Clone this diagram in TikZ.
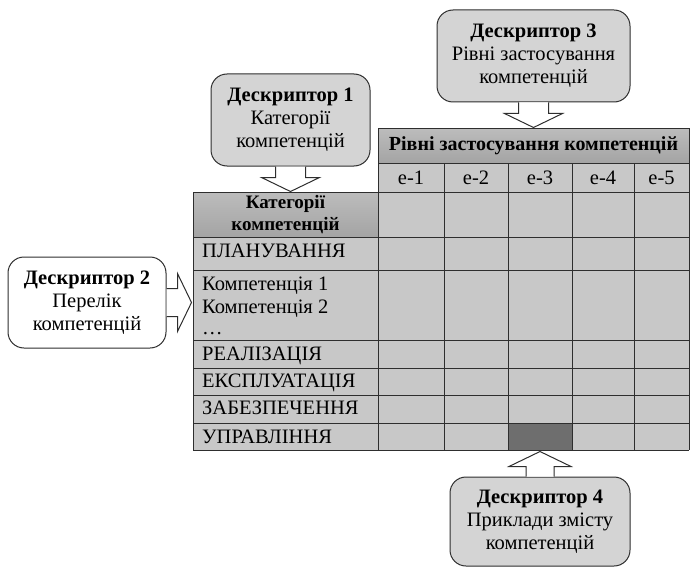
\documentclass[tikz,border=0pt]{standalone}
\usepackage{fontspec}
\setmainfont{Liberation Serif}
\definecolor{boxgray}{HTML}{D4D4D4}
\definecolor{cellgray}{HTML}{C8C8C8}
\definecolor{headgray}{HTML}{A4A4A4}
\definecolor{headlight}{HTML}{BCBCBC}
\definecolor{darkcell}{HTML}{6E6E6E}
\definecolor{linegray}{HTML}{2E2E2E}
\tikzset{
  descbox/.style={draw=linegray,line width=1pt,rounded corners=16pt,align=center,inner sep=2pt},
  blkarrow/.style={draw=linegray,line width=1pt,fill=white,line join=miter},
  tabline/.style={draw=linegray,line width=0.9pt},
  headcell/.style={top color=headlight,bottom color=headgray},
  rowtext/.style={anchor=base west,inner sep=0pt}
}
\begin{document}
\begin{tikzpicture}[x=1pt,y=-1pt,font=\fontsize{20.5}{23}\selectfont]
        \useasboundingbox (0,0) rectangle (690,567);
        % table body
        \fill[cellgray](193,192)rectangle(689,450);
        \fill[cellgray](378,163)rectangle(689,192);
        \shade[headcell](378,128)rectangle(689,163);
        \shade[headcell](193,192)rectangle(378,237);
        \fill[darkcell](508,423)rectangle(572,450);
        \foreach \y in {192,237,270,340,368,395,423,450} \draw[tabline](193,\y)--(689,\y);
        \foreach \y in {128,163} \draw[tabline](378,\y)--(689,\y);
        \draw[tabline](193,192)--(193,450);
        \foreach \x in {378,689} \draw[tabline](\x,128)--(\x,450);
        \foreach \x in {444,508,572,634} \draw[tabline](\x,163)--(\x,450);
        \draw[tabline](508,423)rectangle(572,450);
        % table texts
        \node[font=\fontsize{20}{23}\selectfont\bfseries](lvl)at(533.5,145.5){Рівні застосування компетенцій};
        \foreach \x/\n in {411/1,476/2,540/3,603/4,661.5/5} \node(e\n)at(\x,178){e-\n};
        \node[align=center,inner sep=0pt,font=\fontsize{19}{22}\selectfont\bfseries](cat)at(285.5,214.5){Категорії\\компетенцій};
        \node[rowtext](plan)at(202,257){ПЛАНУВАННЯ};
        \node[rowtext](comp1)at(202,290){Компетенція 1};
        \node[rowtext](comp2)at(202,313){Компетенція 2};
        \node[rowtext](dots)at(202,334){…};
        \node[rowtext](real)at(202,360){РЕАЛІЗАЦІЯ};
        \node[rowtext](expl)at(202,387){ЕКСПЛУАТАЦІЯ};
        \node[rowtext](zabez)at(202,414){ЗАБЕЗПЕЧЕННЯ};
        \node[rowtext](uprav)at(202,443){УПРАВЛІННЯ};
        % descriptors
        \node[descbox,fill=boxgray,minimum width=159pt,minimum height=92pt](d1)at(290.5,120){\textbf{Дескриптор 1}\\Категорії\\компетенцій};
        \node[descbox,fill=white,minimum width=158pt,minimum height=91pt](d2)at(87,302.5){\textbf{Дескриптор 2}\\Перелік\\компетенцій};
        \node[descbox,fill=boxgray,minimum width=193pt,minimum height=92pt](d3)at(533.5,56){\textbf{Дескриптор 3}\\Рівні застосування\\компетенцій};
        \node[descbox,fill=boxgray,minimum width=180pt,minimum height=89pt](d4)at(540,521.5){\textbf{Дескриптор 4}\\Приклади змісту\\компетенцій};
        % block arrows
        \draw[blkarrow,shift={(d1.south)}](-15,0)--(-15,11)--(-29,11)--(0,25)--(29,11)--(15,11)--(15,0);
        \draw[blkarrow,shift={(d3.south)}](-15,0)--(-15,11)--(-29,11)--(0,25)--(29,11)--(15,11)--(15,0);
        \draw[blkarrow,shift={(d2.east)}](0,-14)--(11,-14)--(11,-29)--(25,0)--(11,29)--(11,14)--(0,14);
        \draw[blkarrow,shift={(d4.north)}](-14,0)--(-14,-10)--(-31,-10)--(0,-25)--(31,-10)--(14,-10)--(14,0);
    \end{tikzpicture}
\end{document}
